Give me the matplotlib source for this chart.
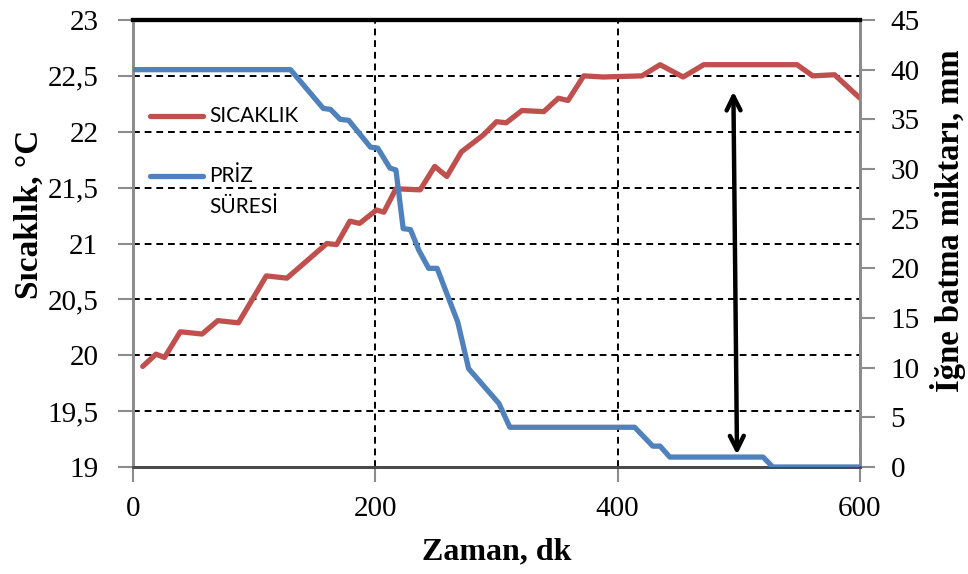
import matplotlib
matplotlib.use("Agg")
import matplotlib.pyplot as plt
from matplotlib.lines import Line2D
from matplotlib.ticker import FuncFormatter, MultipleLocator

# Temperature readings (minutes, degC)
temp_time = [8, 19, 26, 39, 57, 70, 87, 110, 127, 160, 168, 179, 187, 201, 207,
             217, 237, 249, 259, 271, 289, 300, 308, 321, 339, 351, 359, 372,
             388, 420, 435, 454, 471, 548, 561, 579, 600]
temp_vals = [19.9, 20.01, 19.98, 20.21, 20.19, 20.31, 20.29, 20.71, 20.69, 21.0,
             20.99, 21.2, 21.18, 21.3, 21.28, 21.49, 21.48, 21.69, 21.6, 21.82,
             21.97, 22.09, 22.08, 22.19, 22.18, 22.3, 22.28, 22.5, 22.49, 22.5,
             22.6, 22.49, 22.6, 22.6, 22.5, 22.51, 22.3]

# Needle penetration (minutes, mm)
priz_time = [0, 130, 157, 163, 171, 178, 196, 202, 212, 217, 223, 229, 236, 244,
             251, 268, 277, 302, 311, 400, 414, 429, 435, 443, 520, 528, 600]
priz_vals = [40, 40, 36.1, 36.0, 35.0, 34.9, 32.2, 32.1, 30.1, 29.9, 24.0, 23.9,
             21.8, 20.0, 20.0, 14.6, 9.9, 6.4, 4.0, 4.0, 4.0, 2.1, 2.1, 1.0, 1.0,
             0, 0]

x_ticks = [0, 200, 400, 600]
label_temp = "SICAKLIK"
label_priz = ["PRİZ", "SÜRESİ"]

# Double arrow marking the setting interval (minutes, degC)
arrow_top = (495.5, 22.36)
arrow_bottom = (498.5, 19.11)

RED = "#C0504D"
BLUE = "#4F81BD"
SERIF = ["Liberation Serif", "DejaVu Serif"]

fig = plt.figure(figsize=(9.68, 5.74), dpi=100)
ax = fig.add_axes([133 / 968, 1 - 467 / 574, 727 / 968, 447 / 574])
ax2 = ax.twinx()

ax.set_xlim(0, 600)
ax.set_ylim(19, 23)
ax2.set_ylim(0, 45)

ax.set_xticks(x_ticks)
ax.yaxis.set_major_locator(MultipleLocator(0.5))
ax2.yaxis.set_major_locator(MultipleLocator(5))
ax.yaxis.set_major_formatter(FuncFormatter(
    lambda v, p: (f"{v:g}").replace(".", ",")))

# dashed grid
ax.grid(True, color="black", linestyle=(0, (3.5, 2.5)), linewidth=1.4)
ax.set_axisbelow(True)

ax.plot(temp_time, temp_vals, color=RED, lw=3.8, solid_joinstyle="round",
        solid_capstyle="round", zorder=3)
ax2.plot(priz_time, priz_vals, color=BLUE, lw=3.8, solid_joinstyle="round",
         solid_capstyle="round", zorder=3)

ax.annotate("", xy=arrow_top, xytext=arrow_bottom,
            arrowprops=dict(arrowstyle="<->,head_length=1.0,head_width=0.5",
                            color="black", lw=3.2, shrinkA=0, shrinkB=0),
            zorder=5)

for a in (ax, ax2):
    for s in a.spines.values():
        s.set_linewidth(2)
    a.spines["left"].set_color("#8c8c8c")
    a.spines["right"].set_color("#8c8c8c")
    a.spines["bottom"].set_color("#4a4a4a")
    a.spines["top"].set_color("black")
    a.spines["top"].set_linewidth(3)
    a.tick_params(labelsize=21, length=11, width=1.5, color="#8c8c8c")
    for lab in a.get_xticklabels() + a.get_yticklabels():
        lab.set_fontfamily(SERIF)

ax.tick_params(axis="y", pad=14)
ax.tick_params(axis="x", pad=10)
ax2.tick_params(axis="y", pad=11)

ax.set_xlabel("Zaman, dk", fontsize=23, fontweight="bold", family=SERIF,
              labelpad=11)
ax.set_ylabel("Sıcaklık, °C", fontsize=24, fontweight="bold", family=SERIF)
ax2.set_ylabel("İğne batma miktarı, mm", fontsize=23.5, fontweight="bold",
               family=SERIF)
ax.yaxis.set_label_coords(-0.122, 0.565)
ax2.yaxis.set_label_coords(1.096, 0.55)

# legend entries drawn inside the plot area
LEG_FONT = dict(family=["Lato", "DejaVu Sans"], fontsize=15, va="center",
                ha="left", transform=ax.transAxes)
for yy, col, txt in [(1 - 96 / 447, RED, label_temp),
                     (1 - 156 / 447, BLUE, label_priz[0])]:
    ax.add_line(Line2D([17 / 727, 70 / 727], [yy, yy], color=col, lw=3.8,
                       solid_capstyle="round", transform=ax.transAxes))
    ax.text(76 / 727, yy, txt, **LEG_FONT)
ax.text(76 / 727, 1 - 187 / 447, label_priz[1], **LEG_FONT)

fig.savefig("out.png", dpi=100)
